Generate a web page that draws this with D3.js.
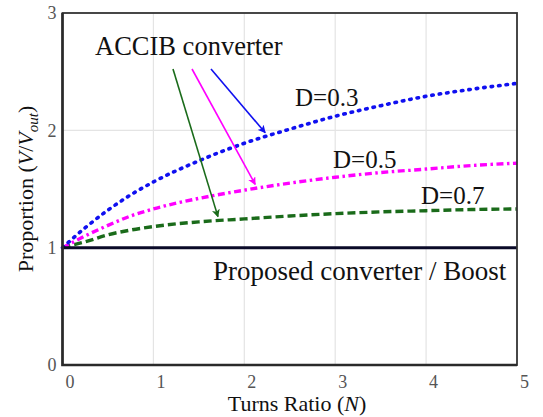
<!DOCTYPE html>
<html>
<head>
<meta charset="utf-8">
<script src="https://cdn.jsdelivr.net/npm/d3@7"></script>
<style>
  html, body { margin: 0; padding: 0; background: #fff; }
  svg { display: block; }
  text { font-family: "Liberation Serif", "Times New Roman", serif; }
</style>
</head>
<body>
<svg id="chart" width="543" height="417"></svg>
<script>
// Turns ratio samples
const turnsRatio = [0, 0.1, 0.25, 0.5, 0.75, 1, 1.5, 2, 2.5, 3, 3.5, 4, 4.5, 5];
// ACCIB converter voltage proportion for each duty cycle
const accibD03 = [1.0, 1.07, 1.17, 1.32, 1.45, 1.56, 1.74, 1.89, 2.01, 2.12, 2.21, 2.29, 2.35, 2.40];
const accibD05 = [1.0, 1.04, 1.10, 1.19, 1.27, 1.33, 1.42, 1.49, 1.55, 1.60, 1.64, 1.67, 1.70, 1.72];
const accibD07 = [1.0, 1.02, 1.05, 1.11, 1.15, 1.18, 1.22, 1.245, 1.27, 1.29, 1.305, 1.315, 1.325, 1.33];
// Proposed converter / Boost reference level
const proposedLevel = [1, 1];
const proposedN = [0, 5];

const xTicks = [0, 1, 2, 3, 4, 5];
const yTicks = [0, 1, 2, 3];

const svg = d3.select("#chart");
const mLeft = 62.5, mRight = 517, mTop = 13, mBottom = 365;

const x = d3.scaleLinear().domain([0, 5]).range([mLeft, mRight]);
const y = d3.scaleLinear().domain([0, 3]).range([mBottom, mTop]);

// arrowhead markers
const defs = svg.append("defs");
function marker(id, color) {
  defs.append("marker")
    .attr("id", id)
    .attr("viewBox", "0 0 10 10")
    .attr("refX", 9).attr("refY", 5)
    .attr("markerWidth", 8).attr("markerHeight", 8)
    .attr("markerUnits", "userSpaceOnUse")
    .attr("orient", "auto")
    .append("path").attr("d", "M0,0 L10,5 L0,10 L2.5,5 z").attr("fill", color);
}
marker("arBlue", "#1010f0");
marker("arPink", "#ff00ff");
marker("arGreen", "#1a6b1a");

// grid
const grid = svg.append("g");
grid.selectAll("line.gx").data(xTicks.filter(d => d > 0 && d < 5)).enter()
  .append("line")
  .attr("x1", d => x(d)).attr("x2", d => x(d))
  .attr("y1", mTop).attr("y2", mBottom)
  .attr("stroke", "#e4e4e4").attr("stroke-width", 1.2);
grid.selectAll("line.gy").data(yTicks.filter(d => d > 0 && d < 3)).enter()
  .append("line")
  .attr("x1", mLeft).attr("x2", mRight)
  .attr("y1", d => y(d)).attr("y2", d => y(d))
  .attr("stroke", "#e4e4e4").attr("stroke-width", 1.2);

// axes
const xAxis = svg.append("g")
  .attr("transform", `translate(0,${mBottom})`)
  .call(d3.axisBottom(x).tickValues(xTicks).tickSize(0).tickPadding(10).tickFormat(d3.format("d")));
xAxis.select(".domain").remove();
xAxis.selectAll("text")
  .attr("dx", 7)
  .attr("font-size", 18).attr("fill", "#555")
  .attr("font-family", "Liberation Serif, serif");

const yAxis = svg.append("g")
  .attr("transform", `translate(${mLeft},0)`)
  .call(d3.axisLeft(y).tickValues(yTicks).tickSize(0).tickPadding(6).tickFormat(d3.format("d")));
yAxis.select(".domain").remove();
yAxis.selectAll("text")
  .attr("font-size", 18).attr("fill", "#555")
  .attr("font-family", "Liberation Serif, serif");

// curves
const line = d3.line().curve(d3.curveMonotoneX).x(d => x(d[0])).y(d => y(d[1]));
const zip = (a, b) => a.map((v, i) => [v, b[i]]);

svg.append("path").datum(zip(turnsRatio, accibD07))
  .attr("d", line).attr("fill", "none")
  .attr("stroke", "#1a6b1a").attr("stroke-width", 3.4)
  .attr("stroke-dasharray", "8,4");
svg.append("path").datum(zip(turnsRatio, accibD05))
  .attr("d", line).attr("fill", "none")
  .attr("stroke", "#ff00ff").attr("stroke-width", 3.4)
  .attr("stroke-dasharray", "7,3.5,2.5,3.5");
svg.append("path").datum(zip(turnsRatio, accibD03))
  .attr("d", line).attr("fill", "none")
  .attr("stroke", "#1010f0").attr("stroke-width", 3.6)
  .attr("stroke-linecap", "round")
  .attr("stroke-dasharray", "1.5,6");

svg.append("path").datum(zip(proposedN, proposedLevel))
  .attr("d", line).attr("fill", "none")
  .attr("stroke", "#0a0a28").attr("stroke-width", 3);

// frame: thin top/right, heavier left/bottom
svg.append("rect")
  .attr("x", mLeft).attr("y", mTop)
  .attr("width", mRight - mLeft).attr("height", mBottom - mTop)
  .attr("fill", "none").attr("stroke", "#333").attr("stroke-width", 1.8);
svg.append("path")
  .attr("d", `M${mLeft},${mTop}V${mBottom}H${mRight}`)
  .attr("fill", "none").attr("stroke", "#2a2a2a").attr("stroke-width", 2.6);

// annotation arrows (start point in px, tip at a curve value)
const arrows = [
  { sx: 211, sy: 69, n: 2.23, v: accibD03, color: "#1010f0", m: "arBlue" },
  { sx: 192, sy: 69, n: 2.12, v: accibD05, color: "#ff00ff", m: "arPink" },
  { sx: 173, sy: 69, n: 1.71, v: accibD07, color: "#1a6b1a", m: "arGreen" }
];
const interp = (arr, n) => {
  const i = d3.bisectRight(turnsRatio, n) - 1;
  const t = (n - turnsRatio[i]) / (turnsRatio[i + 1] - turnsRatio[i]);
  return arr[i] + t * (arr[i + 1] - arr[i]);
};
arrows.forEach(a => {
  svg.append("line")
    .attr("x1", a.sx).attr("y1", a.sy)
    .attr("x2", x(a.n)).attr("y2", y(interp(a.v, a.n)) - 4)
    .attr("stroke", a.color).attr("stroke-width", 1.6)
    .attr("marker-end", `url(#${a.m})`);
});

// labels
const lbl = (tx, ty, s, size, anchor) =>
  svg.append("text").attr("x", tx).attr("y", ty).attr("font-size", size)
    .attr("text-anchor", anchor || "start").attr("fill", "#111").text(s);

lbl(95, 55, "ACCIB converter", 26.5);
lbl(295, 106, "D=0.3", 25);
lbl(333, 168, "D=0.5", 25);
lbl(421, 204, "D=0.7", 25);
lbl(213, 280, "Proposed converter / Boost", 27);

// axis titles
const xt = svg.append("text").attr("x", 297).attr("y", 411)
  .attr("text-anchor", "middle").attr("font-size", 22).attr("fill", "#111");
xt.append("tspan").text("Turns Ratio (");
xt.append("tspan").attr("font-style", "italic").text("N");
xt.append("tspan").text(")");

const yt = svg.append("text")
  .attr("transform", "translate(33,189) rotate(-90)")
  .attr("text-anchor", "middle").attr("font-size", 22).attr("fill", "#111");
yt.append("tspan").text("Proportion (");
yt.append("tspan").attr("font-style", "italic").text("V");
yt.append("tspan").text("/");
yt.append("tspan").attr("font-style", "italic").text("V");
yt.append("tspan").attr("font-style", "italic").attr("font-size", 15).attr("dy", 5).text("out");
yt.append("tspan").attr("dy", -5).text(")");
</script>
</body>
</html>
